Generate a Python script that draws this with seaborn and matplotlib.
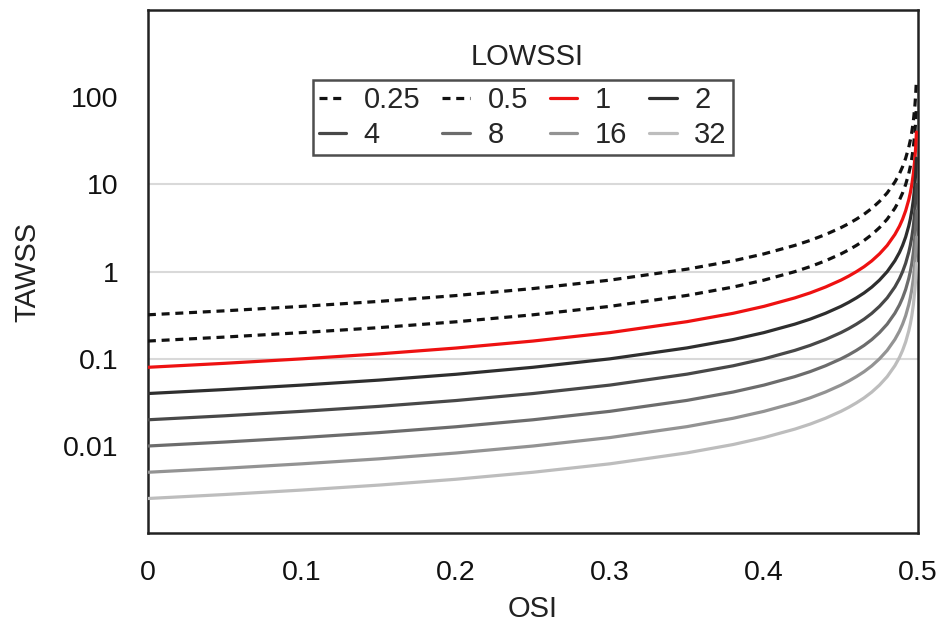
import matplotlib
matplotlib.use("Agg")
import matplotlib.pyplot as plt
import seaborn as sns
import pandas as pd
from matplotlib.lines import Line2D

sns.set_theme(style="white")
plt.rcParams['font.family'] = ['Liberation Sans', 'DejaVu Sans']

# OSI sample points and TAWSS of the LOWSSI = 1 (red) curve
osi = [0, 0.05, 0.1, 0.15, 0.2, 0.25, 0.3, 0.35, 0.38, 0.4, 0.42, 0.43, 0.44, 0.45,
       0.455, 0.46, 0.465, 0.47, 0.475, 0.48, 0.485, 0.488, 0.49, 0.492, 0.494,
       0.495, 0.496, 0.497, 0.498, 0.4985, 0.499]
tawss_ref = [0.08, 0.0889, 0.1, 0.114, 0.133, 0.16, 0.2, 0.267, 0.333, 0.4, 0.5,
             0.571, 0.667, 0.8, 0.889, 1.0, 1.14, 1.33, 1.6, 2.0, 2.67, 3.33, 4.0,
             5.0, 6.67, 8.0, 10.0, 13.3, 20.0, 26.7, 40.0]
lowssi = [0.25, 0.5, 1, 2, 4, 8, 16, 32]
labels = ["0.25", "0.5", "1", "2", "4", "8", "16", "32"]
colors = ["#111111", "#111111", "#ee1111", "#2e2e2e", "#484848", "#6c6c6c", "#939393", "#bdbdbd"]
dashed = [True, True, False, False, False, False, False, False]

rows = []
for lw_val, lab in zip(lowssi, labels):
    for o, t in zip(osi, tawss_ref):
        rows.append({"OSI": o, "TAWSS": t / lw_val, "LOWSSI": lab})
df = pd.DataFrame(rows)

fig = plt.figure(figsize=(9.42, 6.34), dpi=100)
ax = fig.add_axes([0.157, 0.159, 0.8175, 0.825])

for yv in [0.1, 1, 10]:
    ax.axhline(yv, color="#d9d9d9", lw=1.5, zorder=0)

handles = []
for lab, c, d in zip(labels, colors, dashed):
    sub = df[df["LOWSSI"] == lab]
    ls = (0, (2.5, 1.8)) if d else "-"
    sns.lineplot(data=sub, x="OSI", y="TAWSS", ax=ax, color=c, lw=2.3,
                 linestyle=ls, legend=False, zorder=3)
    handles.append(Line2D([0], [0], color=c, lw=2.3, linestyle=ls))

ax.set_yscale("log")
ax.set_ylim(0.001, 1000)
ax.set_xlim(0, 0.5)
ax.set_yticks([0.01, 0.1, 1, 10, 100])
ax.set_yticklabels(["0.01", "0.1", "1", "10", "100"])
ax.minorticks_off()
ax.set_xticks([0, 0.1, 0.2, 0.3, 0.4, 0.5])
ax.set_xticklabels(["0", "0.1", "0.2", "0.3", "0.4", "0.5"])
ax.tick_params(length=0, labelsize=20.5, colors="#111111")
ax.tick_params(axis="y", pad=21)
ax.tick_params(axis="x", pad=19)
ax.set_xlabel("OSI", fontsize=21, labelpad=7, color="#222222")
ax.set_ylabel("TAWSS", fontsize=21, labelpad=16, color="#222222")
for s in ax.spines.values():
    s.set_color("#222222")
    s.set_linewidth(1.8)

order = [0, 4, 1, 5, 2, 6, 3, 7]
leg = ax.legend([handles[i] for i in order], [labels[i] for i in order], ncol=4,
                loc="upper left", bbox_to_anchor=(0.214, 0.866), fontsize=21,
                frameon=True, fancybox=False, handlelength=0.95, handletextpad=0.6,
                columnspacing=0.75, labelspacing=0.24, borderpad=0.2,
                borderaxespad=0)
leg.get_frame().set_edgecolor("#222222")
leg.get_frame().set_linewidth(1.8)
ax.text(0.492, 0.91, "LOWSSI", transform=ax.transAxes, ha="center", va="center",
        fontsize=21, color="#222222")

fig.savefig("out.png", dpi=100)
